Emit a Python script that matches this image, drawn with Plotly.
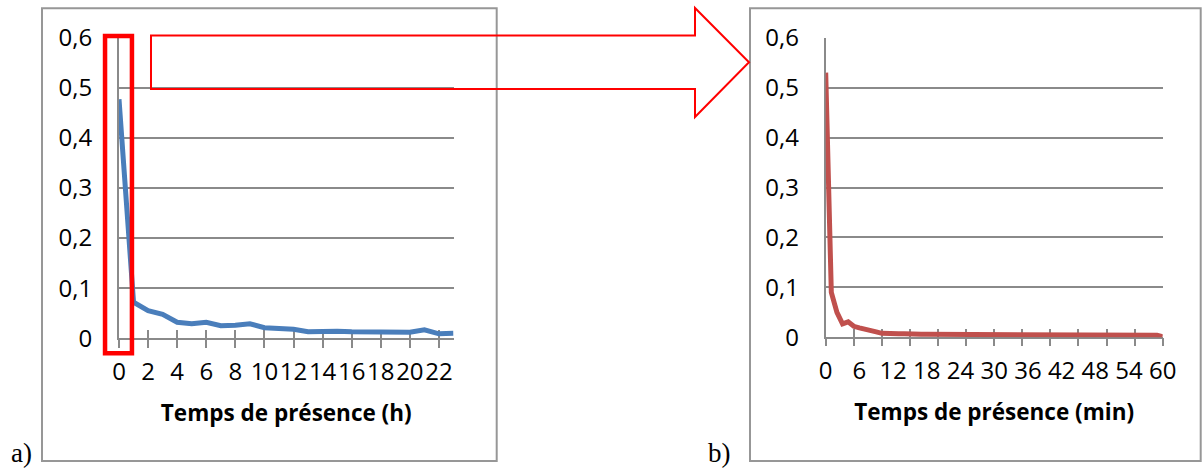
import plotly.graph_objects as go

# ---------------- data ----------------
HOURS = list(range(24))
SHARE_H = [0.477, 0.072, 0.055, 0.048, 0.032, 0.029, 0.032, 0.025, 0.026, 0.029,
           0.021, 0.020, 0.018, 0.013, 0.014, 0.014, 0.013, 0.013, 0.014, 0.012,
           0.012, 0.017, 0.009, 0.010]

MINUTES = list(range(61))
SHARE_MIN = [0.530, 0.090, 0.050, 0.027, 0.031, 0.022, 0.019, 0.017, 0.015, 0.011,
             0.008, 0.007, 0.007, 0.007, 0.007, 0.006, 0.006, 0.006, 0.006, 0.006,
             0.006, 0.006, 0.005, 0.005, 0.005, 0.005, 0.005, 0.005, 0.005, 0.005,
             0.005, 0.005, 0.005, 0.005, 0.005, 0.005, 0.005, 0.004, 0.005, 0.005,
             0.005, 0.005, 0.004, 0.004, 0.005, 0.005, 0.005, 0.005, 0.004, 0.004,
             0.004, 0.004, 0.004, 0.004, 0.004, 0.004, 0.004, 0.004, 0.004, 0.004,
             0.001]

Y_TICKS = [0, 0.1, 0.2, 0.3, 0.4, 0.5, 0.6]
Y_TICK_LABELS = ["0", "0,1", "0,2", "0,3", "0,4", "0,5", "0,6"]
X_H_TICKS = list(range(0, 24, 2))
X_MIN_LABELS = list(range(0, 61, 6))
X_MIN_TICKMARKS = list(range(0, 61, 5))

# zoom window highlighted on chart a) (hours, share)
HIGHLIGHT_X = [-0.96, 0.89]
HIGHLIGHT_Y = [-0.030, 0.603]

TITLE_A = "Temps de présence (h)"
TITLE_B = "Temps de présence (min)"

# ---------------- layout helpers ----------------
W, H = 1202, 469
GRAY = "#8a8a8a"
FRAME = "#979797"
FONT = "Open Sans"


def px(x):
    return x / W


def py(y):
    return 1 - y / H


XA_DOM = [px(119), px(453.5)]
YA_DOM = [py(338.3), py(37.5)]
XB_DOM = [px(825.7), px(1162.7)]
YB_DOM = [py(337.3), py(37.7)]
XA_RANGE = [0, 23]
XB_RANGE = [0, 60]
Y_RANGE = [0, 0.6]


def to_paper(v, rng, dom):
    return dom[0] + (v - rng[0]) / (rng[1] - rng[0]) * (dom[1] - dom[0])


fig = go.Figure()
fig.add_trace(go.Scatter(x=HOURS, y=SHARE_H, mode="lines",
                         line=dict(color="#4A7EBB", width=5),
                         xaxis="x", yaxis="y", showlegend=False, hoverinfo="x+y"))
fig.add_trace(go.Scatter(x=MINUTES, y=SHARE_MIN, mode="lines",
                         line=dict(color="#C0504D", width=5),
                         xaxis="x2", yaxis="y2", showlegend=False, hoverinfo="x+y"))

tickfont = dict(family=FONT, size=24, color="black")
titlefont = dict(family=FONT, size=22.5, color="black", weight="bold")

common_x = dict(showgrid=False, zeroline=False, fixedrange=True, layer="below traces",
                automargin=False)
common_y = dict(range=Y_RANGE, tickvals=Y_TICKS, ticktext=Y_TICK_LABELS, ticks="",
                showline=True, linecolor=GRAY, linewidth=2, showgrid=True,
                gridcolor=GRAY, gridwidth=2, zeroline=False, tickfont=tickfont,
                ticklabelstandoff=20, fixedrange=True, layer="below traces",
                automargin=False)

fig.update_layout(
    width=W, height=H, autosize=False,
    margin=dict(l=0, r=0, t=0, b=0, pad=0, autoexpand=False),
    paper_bgcolor="white", plot_bgcolor="white",
    showlegend=False,
    xaxis=dict(domain=XA_DOM, range=XA_RANGE, anchor="y",
               tickvals=X_H_TICKS, ticktext=[str(v) for v in X_H_TICKS], tickangle=0,
               ticks="outside", ticklen=8, tickwidth=2, tickcolor=GRAY,
               showline=True, linecolor=GRAY, linewidth=2, tickfont=tickfont,
               ticklabelstandoff=3,
               title=dict(text=TITLE_A, font=titlefont, standoff=19), **common_x),
    xaxis3=dict(overlaying="x", range=XA_RANGE, anchor="y", tickvals=X_H_TICKS,
                ticks="inside", ticklen=8, tickwidth=2, tickcolor=GRAY,
                showticklabels=False, showline=False, **common_x),
    yaxis=dict(domain=YA_DOM, anchor="x", **common_y),
    xaxis2=dict(domain=XB_DOM, range=XB_RANGE, anchor="y2",
                tickvals=X_MIN_LABELS, ticktext=[str(v) for v in X_MIN_LABELS], tickangle=0,
                ticks="outside", ticklen=8, tickwidth=2, tickcolor="rgba(0,0,0,0)",
                showline=True, linecolor=GRAY, linewidth=2, tickfont=tickfont,
                ticklabelstandoff=3,
                title=dict(text=TITLE_B, font=titlefont, standoff=19), **common_x),
    xaxis4=dict(overlaying="x2", range=XB_RANGE, anchor="y2", tickvals=X_MIN_TICKMARKS,
                ticks="outside", ticklen=8, tickwidth=2, tickcolor=GRAY,
                showticklabels=False, showline=False, **common_x),
    xaxis5=dict(overlaying="x2", range=XB_RANGE, anchor="y2", tickvals=X_MIN_TICKMARKS,
                ticks="inside", ticklen=8, tickwidth=2, tickcolor=GRAY,
                showticklabels=False, showline=False, **common_x),
    yaxis2=dict(domain=YB_DOM, anchor="x2", **common_y),
)

# invisible traces to activate overlay axes
fig.add_trace(go.Scatter(x=[None], y=[None], xaxis="x3", yaxis="y", showlegend=False, hoverinfo="skip"))
fig.add_trace(go.Scatter(x=[None], y=[None], xaxis="x4", yaxis="y2", showlegend=False, hoverinfo="skip"))
fig.add_trace(go.Scatter(x=[None], y=[None], xaxis="x5", yaxis="y2", showlegend=False, hoverinfo="skip"))

# outer frames of panels a) and b)
fig.add_shape(type="rect", xref="paper", yref="paper", x0=px(42), x1=px(496.7),
              y0=py(461), y1=py(8.3), line=dict(color=FRAME, width=2), layer="below")
fig.add_shape(type="rect", xref="paper", yref="paper", x0=px(750), x1=px(1200.7),
              y0=py(461), y1=py(8.3), line=dict(color=FRAME, width=2), layer="below")

# red highlight box on the first hour
fig.add_shape(type="rect", xref="paper", yref="paper",
              x0=to_paper(HIGHLIGHT_X[0], XA_RANGE, XA_DOM),
              x1=to_paper(HIGHLIGHT_X[1], XA_RANGE, XA_DOM),
              y0=to_paper(HIGHLIGHT_Y[0], Y_RANGE, YA_DOM),
              y1=to_paper(HIGHLIGHT_Y[1], Y_RANGE, YA_DOM),
              line=dict(color="#FF0000", width=4.5), layer="above")

# outline arrow pointing to panel b)
arrow_pts = [(151, 35.5), (695, 35.5), (695, 8), (749, 62.3), (695, 117), (695, 89), (151, 89)]
path = "M " + " L ".join(f"{px(a):.5f},{py(b):.5f}" for a, b in arrow_pts) + " Z"
fig.add_shape(type="path", xref="paper", yref="paper", path=path,
              line=dict(color="#FF0000", width=2), layer="above")

# panel letters
for txt, xl in (("a)", 9), ("b)", 706)):
    fig.add_annotation(text=txt, xref="paper", yref="paper", x=px(xl), y=py(453),
                       xanchor="left", yanchor="middle", showarrow=False,
                       font=dict(family="Liberation Serif", size=27, color="black"))

fig.write_html("out.html", config={"displayModeBar": False, "staticPlot": True},
               post_script="document.body.style.margin='0';document.body.style.overflow='hidden';")
